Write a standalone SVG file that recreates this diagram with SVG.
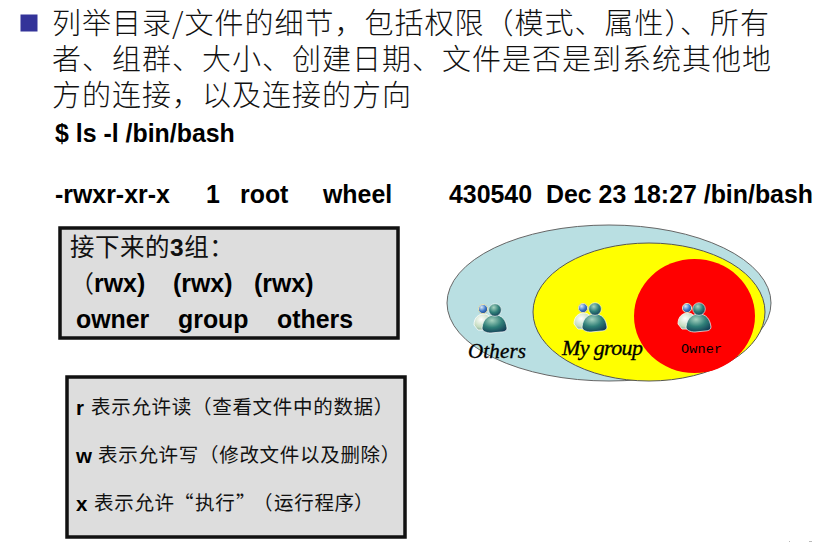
<svg xmlns="http://www.w3.org/2000/svg" width="840" height="542" viewBox="0 0 840 542">
<style>
.cn{font-family:"Noto Sans CJK SC","Liberation Sans",sans-serif;fill:#111}
.head{font-size:29px;font-weight:300;letter-spacing:1px}
.b{font-family:"Liberation Sans",Arial,sans-serif;font-weight:700;font-size:24.9px;fill:#000}
.sm{font-size:19.5px;font-weight:400;letter-spacing:.7px}
.lt{font-size:20.5px}
.box{fill:#dddddd;stroke:#111;stroke-width:3.5}
.en{font-family:"Liberation Serif",serif;font-style:italic;fill:#000;stroke:#000;stroke-width:.35}
</style>
<defs>
<radialGradient id="gf" cx=".4" cy=".3" r=".8"><stop offset="0" stop-color="#a8d4c0"/><stop offset=".5" stop-color="#2f7f78"/><stop offset="1" stop-color="#0f3350"/></radialGradient>
<radialGradient id="gb" cx=".4" cy=".35" r=".8"><stop offset="0" stop-color="#ffffff"/><stop offset=".6" stop-color="#c4dcc0"/><stop offset="1" stop-color="#5f8c7a"/></radialGradient>
<radialGradient id="gh" cx=".35" cy=".3" r=".8"><stop offset="0" stop-color="#dce9f7"/><stop offset=".55" stop-color="#3c78c8"/><stop offset="1" stop-color="#1b3f7c"/></radialGradient>
<g id="people">
<path d="M-21 15C-21 7-16 4-11 4C-7 4-3 7-3 14L-5 20H-17Z" fill="url(#gb)" stroke="#fff" stroke-width=".8"/>
<circle cx="-12" cy="-1" r="4.600" fill="url(#gh)" stroke="#e8e0b0" stroke-width="1"/>
<path d="M-13 18C-12 9-7 5 0 5C7 5 11 10 12 18C12 21 9 22 6 22L-4 23C-9 23-13 21-13 18Z" fill="url(#gf)" stroke="#fff" stroke-width=".7"/>
<circle cx="0" cy="0" r="6.300" fill="url(#gf)" stroke="#fff" stroke-width=".6"/>
</g>
</defs>
<rect width="840" height="542" fill="#fff"/>
<g id="bullet"><rect x="20.500" y="14.500" width="17" height="17" fill="#333399"/></g>
<g id="title">
<text class="cn head" x="52" y="34">列举目录/文件的细节，包括权限（模式、属性）、所有</text>
<text class="cn head" x="52" y="70">者、组群、大小、创建日期、文件是否是到系统其他地</text>
<text class="cn head" x="52" y="106">方的连接，以及连接的方向</text>
</g>
<g id="command">
<text class="b" x="55" y="142">$ ls -l /bin/bash</text>
<text class="b" x="55" y="203">-rwxr-xr-x</text>
<text class="b" x="206" y="203">1</text>
<text class="b" x="240" y="203">root</text>
<text class="b" x="323" y="203">wheel</text>
<text class="b" x="449" y="203">430540</text>
<text class="b" x="546" y="203">Dec 23 18:27 /bin/bash</text>
</g>
<g id="groups-box">
<rect class="box" x="60" y="228" width="338" height="110"/>
<text class="cn" x="70" y="256" font-size="24.500" font-weight="400" letter-spacing=".5">接下来的<tspan font-family="Liberation Sans" font-weight="700">3</tspan>组：</text>
<text class="cn" x="70" y="292" font-size="24">（</text>
<text class="b" x="94" y="292">rwx)</text>
<text class="b" x="173" y="292">(rwx)</text>
<text class="b" x="254" y="292">(rwx)</text>
<text class="b" x="76" y="328">owner</text>
<text class="b" x="178" y="328">group</text>
<text class="b" x="277" y="328">others</text>
</g>
<g id="legend-box">
<rect class="box" x="67" y="377" width="338" height="160"/>
<text class="b lt" x="76" y="415">r</text>
<text class="cn sm" x="91" y="414">表示允许读（查看文件中的数据）</text>
<text class="b lt" x="76" y="463">w</text>
<text class="cn sm" x="98" y="462">表示允许写（修改文件以及删除）</text>
<text class="b lt" x="76" y="511">x</text>
<text class="cn sm" x="94" y="510">表示允许<tspan x="174">“</tspan><tspan x="195">执行</tspan><tspan x="236">”</tspan><tspan x="253">（</tspan><tspan x="274">运行程序</tspan><tspan x="354">）</tspan></text>
</g>
<g id="others">
<ellipse cx="609" cy="303" rx="162" ry="78" fill="#b9dfe2" stroke="#666" stroke-width="1"/>
<use href="#people" x="495" y="310"/>
<text class="en" x="468" y="358" font-size="21" textLength="58">Others</text>
</g>
<g id="my-group">
<ellipse cx="649" cy="312" rx="116" ry="69" fill="#ffff00" stroke="#555" stroke-width="1"/>
<use href="#people" x="595" y="309"/>
<text class="en" x="562" y="355" font-size="22" textLength="81">My group</text>
</g>
<g id="owner">
<ellipse cx="694.500" cy="316" rx="60.500" ry="57" fill="#ff0000"/>
<use href="#people" x="699" y="309"/>
<text x="681" y="353" font-family="Liberation Mono,monospace" font-size="13.500" fill="#000" textLength="41">Owner</text>
</g>
<g id="specks" fill="#bbb"><rect x="789" y="541" width="1" height="1"/><rect x="809" y="541" width="3" height="1"/></g>
</svg>
